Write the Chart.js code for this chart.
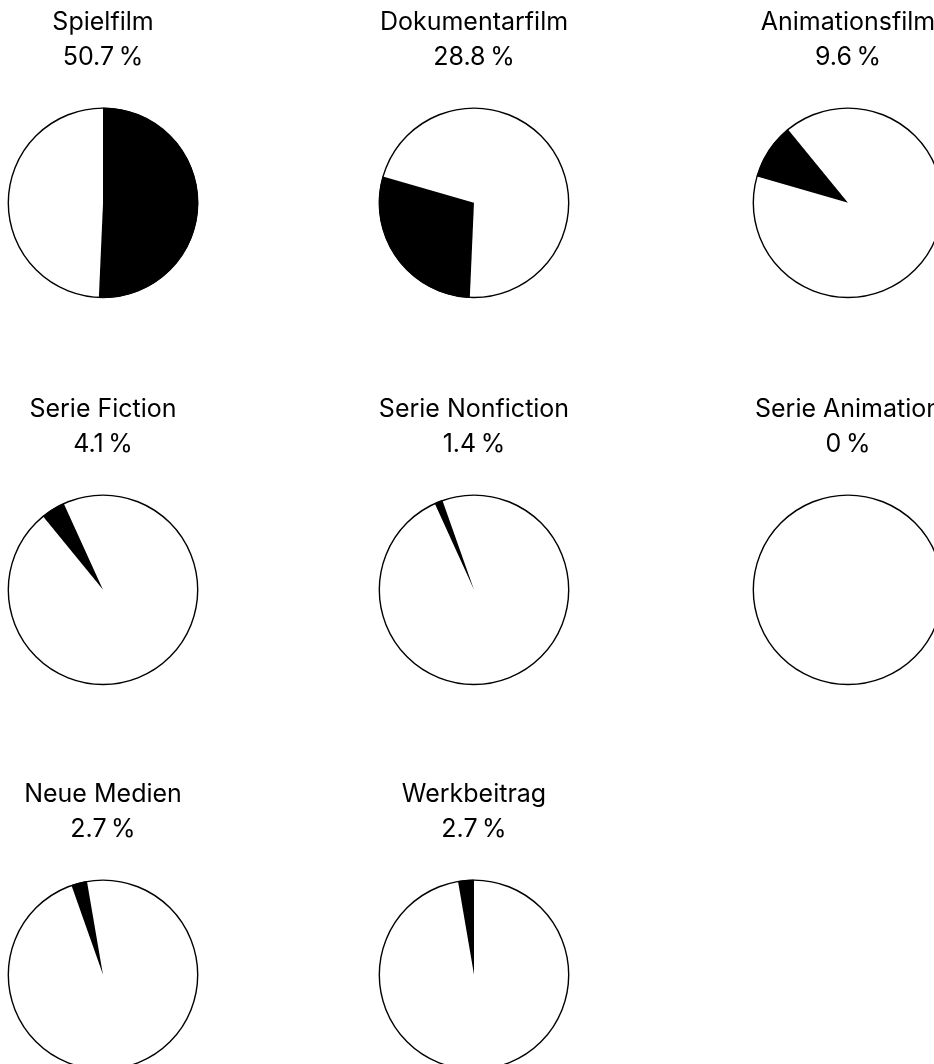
<!DOCTYPE html>
<html>
<head>
<meta charset="utf-8">
<script src="https://cdn.jsdelivr.net/npm/chart.js@4/dist/chart.umd.min.js"></script>
<style>
  html, body { margin: 0; padding: 0; background: #fff; overflow: hidden; width: 934px; height: 1064px; }
  .cell { position: absolute; width: 260px; height: 310px; }
  .cell canvas { display: block; }
</style>
</head>
<body>
<script>
// Data
const categories = ['Spielfilm', 'Dokumentarfilm', 'Animationsfilm', 'Serie Fiction', 'Serie Nonfiction', 'Serie Animation', 'Neue Medien', 'Werkbeitrag'];
const shares = [50.7, 28.8, 9.6, 4.1, 1.4, 0, 2.7, 2.7];
const shareLabels = ['50.7\u202F%', '28.8\u202F%', '9.6\u202F%', '4.1\u202F%', '1.4\u202F%', '0\u202F%', '2.7\u202F%', '2.7\u202F%'];

// Layout (positions of the grid cells)
const colCenters = [102.7, 474.3, 847.7];
const rowTops = [0, 387, 772];

// Outline of the whole pie, drawn from the arc element's own geometry
const outlinePlugin = {
  id: 'outline',
  afterDatasetsDraw(chart) {
    const arc = chart.getDatasetMeta(0).data[0];
    if (!arc) return;
    const ctx = chart.ctx;
    ctx.save();
    ctx.beginPath();
    ctx.arc(arc.x, arc.y, arc.outerRadius, 0, Math.PI * 2);
    ctx.lineWidth = 1.4;
    ctx.strokeStyle = '#000000';
    ctx.stroke();
    ctx.restore();
  }
};

let cumulative = 0;
categories.forEach((name, i) => {
  const col = i % 3, row = Math.floor(i / 3);
  const div = document.createElement('div');
  div.className = 'cell';
  div.style.left = (colCenters[col] - 130) + 'px';
  div.style.top = rowTops[row] + 'px';
  const canvas = document.createElement('canvas');
  div.appendChild(canvas);
  document.body.appendChild(div);

  const start = cumulative;
  cumulative += shares[i];

  new Chart(canvas, {
    type: 'pie',
    data: {
      labels: [name, ''],
      datasets: [{
        data: [shares[i], 100 - shares[i]],
        backgroundColor: ['#000000', '#ffffff'],
        borderColor: '#000000',
        borderWidth: [shares[i] > 0 ? 1 : 0, 0],
        radius: 94.7
      }]
    },
    options: {
      responsive: true,
      maintainAspectRatio: false,
      animation: false,
      events: [],
      rotation: start * 3.6,
      layout: { padding: 0 },
      plugins: {
        legend: { display: false },
        tooltip: { enabled: false },
        title: {
          display: true,
          text: [name, shareLabels[i]],
          color: '#000000',
          font: { family: 'Inter', size: 25, weight: 'normal', lineHeight: 1.4 },
          padding: { top: 5, bottom: 20.6 }
        }
      }
    },
    plugins: [outlinePlugin]
  });
});
</script>
</body>
</html>
